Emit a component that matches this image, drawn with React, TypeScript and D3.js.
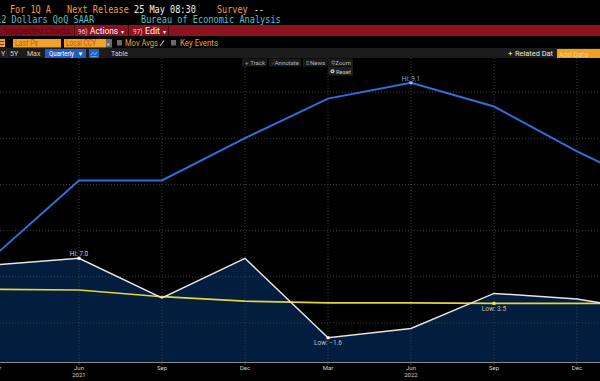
import React from "react";
import * as d3 from "d3";

const quarterKeys = ["2021Q1", "2021Q2", "2021Q3", "2021Q4", "2022Q1", "2022Q2", "2022Q3", "2022Q4", "2023Q1"];
const monthLabels = ["Mar", "Jun", "Sep", "Dec", "Mar", "Jun", "Sep", "Dec", "Mar"];
const yearLabels = ["", "2021", "", "", "", "2022", "", "", ""];
const realGdpQoQ = [6.3, 7.0, 2.7, 7.0, -1.6, -0.6, 3.2, 2.6, 1.1];
const cpiYoY = [2.6, 5.4, 5.4, 7.0, 8.5, 9.1, 8.2, 6.5, 5.0];
const unemploymentRate = [6.0, 5.9, 4.7, 3.9, 3.6, 3.6, 3.5, 3.5, 3.5];
const gdpAxisDomain = [-4.23, 28.7];
const cpiAxisDomain = [-1.48, 10.04];
const unempAxisDomain = [-6.96, 47.3];
const gridTicks = [0, 5, 10, 15, 20, 25];

const W = 600;
const H = 381;
const plotTop = 58;
const plotBottom = 362;

const ORANGE = "#f0a030";
const CYAN = "#4fc4cc";
const MONO = "'DejaVu Sans Mono', monospace";
const SANS = "Roboto, 'Liberation Sans', sans-serif";

function MonoText({ x, y, text, color, size = 11 }: { x: number; y: number; text: string; color: string; size?: number }) {
  return (
    <text x={x} y={y} fill={color} fontFamily={MONO} fontSize={size} textLength={text.length * 5.2 - 0.6} lengthAdjust="spacingAndGlyphs">
      {text}
    </text>
  );
}

export default function App() {
  const x = d3.scalePoint<string>().domain(quarterKeys).range([-4, 660]);
  const yGdp = d3.scaleLinear().domain(gdpAxisDomain).range([plotBottom, plotTop]);
  const yCpi = d3.scaleLinear().domain(cpiAxisDomain).range([plotBottom, plotTop]);
  const yUnemp = d3.scaleLinear().domain(unempAxisDomain).range([plotBottom, plotTop]);

  const xs = quarterKeys.map((k) => x(k) as number);
  const gdpLine = d3.line<number>().x((_, i) => xs[i]).y((d) => yGdp(d))(realGdpQoQ) || "";
  const gdpArea = d3.area<number>().x((_, i) => xs[i]).y0(plotBottom).y1((d) => yGdp(d))(realGdpQoQ) || "";
  const cpiLine = d3.line<number>().x((_, i) => xs[i]).y((d) => yCpi(d))(cpiYoY) || "";
  const unLine = d3.line<number>().x((_, i) => xs[i]).y((d) => yUnemp(d))(unemploymentRate) || "";

  const fmt = d3.format(".1f");
  const gHi = d3.maxIndex(realGdpQoQ);
  const gLo = d3.minIndex(realGdpQoQ);
  const cHi = d3.maxIndex(cpiYoY);
  const uLo = d3.minIndex(unemploymentRate);

  const marks = [
    { i: gHi, y: yGdp(realGdpQoQ[gHi]), label: `Hi: ${fmt(realGdpQoQ[gHi])}`, dy: -2.5, color: "#d0d0d0", dot: "#ffffff" },
    { i: gLo, y: yGdp(realGdpQoQ[gLo]), label: `Low: ${fmt(realGdpQoQ[gLo])}`, dy: 7.5, color: "#c0c0c0", dot: "#ffffff" },
    { i: cHi, y: yCpi(cpiYoY[cHi]), label: `Hi: ${fmt(cpiYoY[cHi])}`, dy: -1.8, color: "#8fa6c8", dot: "#9cc0ff" },
    { i: uLo, y: yUnemp(unemploymentRate[uLo]), label: `Low: ${fmt(unemploymentRate[uLo])}`, dy: 7.5, color: "#c8c49a", dot: "#f0e060" },
  ];

  const tools = [
    { x: 242, w: 25, icon: "+", label: "Track" },
    { x: 269, w: 32, icon: "⁄", label: "Annotate" },
    { x: 303, w: 24, icon: "≡", label: "News" },
    { x: 328, w: 25, icon: "⚲", label: "Zoom" },
  ];

  return (
    <svg width={W} height={H} style={{ position: "absolute", left: 0, top: 0, display: "block" }}>
      <rect x={0} y={0} width={W} height={H} fill="#000" />

      {/* header row 1 */}
      <MonoText x={10} y={12.5} text="For 1Q A" color={ORANGE} />
      <MonoText x={67} y={12.5} text="Next Release" color={ORANGE} />
      <MonoText x={134} y={12.5} text="25 May 08:30" color="#f2f2f2" />
      <MonoText x={217} y={12.5} text="Survey" color={ORANGE} />
      <MonoText x={254} y={12.5} text="--" color="#f2f2f2" />
      {/* header row 2 */}
      <MonoText x={-4} y={23} text="12 Dollars QoQ SAAR" color={CYAN} />
      <MonoText x={141} y={23} text="Bureau of Economic Analysis" color={CYAN} />

      {/* red action bar */}
      <rect x={0} y={25} width={W} height={11} fill="#8c1220" />
      <rect x={0} y={25} width={73} height={11} fill="#7e0f1c" />
      <text x={3} y={34} fill="#5c0a14" fontFamily={SANS} fontSize={9} textLength={67} lengthAdjust="spacingAndGlyphs">Suggested Charts</text>
      <line x1={74.5} y1={25} x2={74.5} y2={36} stroke="#4a0810" />
      <text x={78} y={33.5} fill="#f0d0d0" fontFamily={SANS} fontSize={6.5}>96)</text>
      <text x={90} y={34} fill="#ffffff" fontFamily={SANS} fontSize={9} textLength={28} lengthAdjust="spacingAndGlyphs">Actions</text>
      <text x={121} y={33.5} fill="#ffffff" fontFamily={SANS} fontSize={6}>▾</text>
      <line x1={128.5} y1={25} x2={128.5} y2={36} stroke="#4a0810" />
      <text x={133} y={33.5} fill="#f0d0d0" fontFamily={SANS} fontSize={6.5}>97)</text>
      <text x={145} y={34} fill="#ffffff" fontFamily={SANS} fontSize={9} textLength={15} lengthAdjust="spacingAndGlyphs">Edit</text>
      <text x={163} y={33.5} fill="#ffffff" fontFamily={SANS} fontSize={6}>▾</text>
      <line x1={168.5} y1={25} x2={168.5} y2={36} stroke="#4a0810" />

      {/* row 4 */}
      <rect x={0} y={39} width={5} height={8} fill={ORANGE} />
      <line x1={0} y1={41.5} x2={4} y2={41.5} stroke="#7a4a10" />
      <line x1={0} y1={44.5} x2={4} y2={44.5} stroke="#7a4a10" />
      <rect x={13} y={39} width={48} height={8.5} fill="#f2a228" />
      <text x={15} y={46} fill="#c65a10" fontFamily={SANS} fontSize={8.5} textLength={23} lengthAdjust="spacingAndGlyphs">Last Px</text>
      <rect x={64} y={39} width={42} height={8.5} fill="#f2a228" />
      <text x={66} y={46} fill="#c65a10" fontFamily={SANS} fontSize={8.5} textLength={30} lengthAdjust="spacingAndGlyphs">Local CCY</text>
      <rect x={106} y={39} width={6} height={8.5} fill="#6a6a6a" />
      <text x={107} y={45.5} fill="#ddd" fontFamily={SANS} fontSize={5}>▾</text>
      <rect x={117} y={40} width={5} height={5.5} fill="#6a6a6a" />
      <text x={125} y={46} fill={ORANGE} fontFamily={SANS} fontSize={8.5} textLength={33} lengthAdjust="spacingAndGlyphs">Mov Avgs</text>
      <line x1={160} y1={46} x2={164} y2={40.5} stroke="#bbb" strokeWidth={1.2} />
      <rect x={171} y={40} width={5} height={5.5} fill="#6a6a6a" />
      <text x={180} y={46} fill={ORANGE} fontFamily={SANS} fontSize={8.5} textLength={38} lengthAdjust="spacingAndGlyphs">Key Events</text>

      {/* row 5 */}
      <rect x={0} y={48} width={W} height={10} fill="#1c1c1c" />
      <text x={-3} y={56} fill="#cfcfcf" fontFamily={SANS} fontSize={7}>1Y</text>
      <line x1={6.5} y1={49} x2={6.5} y2={57} stroke="#333" />
      <text x={10} y={56} fill="#cfcfcf" fontFamily={SANS} fontSize={7}>5Y</text>
      <text x={27} y={56} fill="#cfcfcf" fontFamily={SANS} fontSize={7}>Max</text>
      <rect x={45} y={49} width={41} height={9} fill="#1f5fc4" />
      <text x={49} y={56} fill="#ffffff" fontFamily={SANS} fontSize={7} textLength={25} lengthAdjust="spacingAndGlyphs">Quarterly</text>
      <text x={77.5} y={56} fill="#ffffff" fontFamily={SANS} fontSize={6}>▼</text>
      <rect x={89} y={49} width={10} height={9} fill="#1f5fc4" />
      <path d="M91,55 L93,52.5 L95,54.5 L97,52" fill="none" stroke="#9cc4ff" strokeWidth={0.8} />
      <line x1={91} y1={56.5} x2={97} y2={56.5} stroke="#9cc4ff" strokeWidth={0.6} />
      <text x={111} y={56} fill="#cfcfcf" fontFamily={SANS} fontSize={7}>Table</text>
      <text x={508} y={56} fill="#ffffff" fontFamily={SANS} fontSize={8}>+</text>
      <text x={515} y={56} fill="#e8e8e8" fontFamily={SANS} fontSize={7} textLength={38} lengthAdjust="spacingAndGlyphs">Related Dat</text>
      <rect x={557} y={49} width={43} height={9} fill="#f0a020" />
      <text x={559} y={56.5} fill="#f8cc80" fontFamily={SANS} fontSize={7.5} textLength={29} lengthAdjust="spacingAndGlyphs">Add Data</text>

      {/* plot */}
      <path d={gdpArea} fill="#021d3d" />
      {gridTicks.map((t) => (
        <line key={`h${t}`} x1={0} x2={W} y1={yGdp(t)} y2={yGdp(t)} stroke="#4a4a4a" strokeWidth={0.8} strokeDasharray="1,2" />
      ))}
      {xs.map((xv, i) => (
        <line key={`v${i}`} x1={xv} x2={xv} y1={plotTop} y2={plotBottom} stroke="#4a4a4a" strokeWidth={0.8} strokeDasharray="1,2" />
      ))}
      <path d={unLine} fill="none" stroke="#e6d43c" strokeWidth={1.6} />
      <path d={gdpLine} fill="none" stroke="#e4e4e4" strokeWidth={1.5} />
      <path d={cpiLine} fill="none" stroke="#2f6fd8" strokeWidth={2} />

      {marks.map((m, k) => (
        <g key={`m${k}`}>
          <rect x={xs[m.i] - 1.5} y={m.y - 1.5} width={3} height={3} fill={m.dot} />
          <text x={xs[m.i]} y={m.y + m.dy} fill={m.color} fontFamily={SANS} fontSize={6.5} textAnchor="middle">{m.label}</text>
        </g>
      ))}

      {/* chart tools */}
      {tools.map((t) => (
        <g key={t.label}>
          <rect x={t.x} y={58.5} width={t.w} height={8} fill="#1a1a1a" />
          <text x={t.x + 3} y={65} fill="#9a9a9a" fontFamily={SANS} fontSize={6}>{t.icon}</text>
          <text x={t.x + t.w - 2} y={65} fill="#b0b0b0" fontFamily={SANS} fontSize={6} textAnchor="end">{t.label}</text>
        </g>
      ))}
      <rect x={328} y={67} width={25} height={8.5} fill="#1e1e1e" />
      <circle cx={332.5} cy={71.3} r={2} fill="#cfcfcf" />
      <circle cx={332.5} cy={71.3} r={0.8} fill="#1e1e1e" />
      <text x={351} y={73.5} fill="#c0c0c0" fontFamily={SANS} fontSize={6} textAnchor="end">Reset</text>

      {/* x axis */}
      <rect x={0} y={plotBottom} width={W} height={H - plotBottom} fill="#000" />
      <line x1={0} x2={W} y1={plotBottom + 0.5} y2={plotBottom + 0.5} stroke="#8a8a8a" strokeWidth={1} />
      {xs.map((xv, i) => (
        <g key={`t${i}`}>
          <line x1={xv} x2={xv} y1={plotBottom} y2={plotBottom + 3} stroke="#777" strokeWidth={0.6} />
          <text x={xv} y={369.5} fill="#cfcfcf" fontFamily={SANS} fontSize={6} textAnchor="middle">{monthLabels[i]}</text>
          {yearLabels[i] && (
            <text x={xv} y={376.5} fill="#cfcfcf" fontFamily={SANS} fontSize={6} textAnchor="middle">{yearLabels[i]}</text>
          )}
        </g>
      ))}
    </svg>
  );
}
